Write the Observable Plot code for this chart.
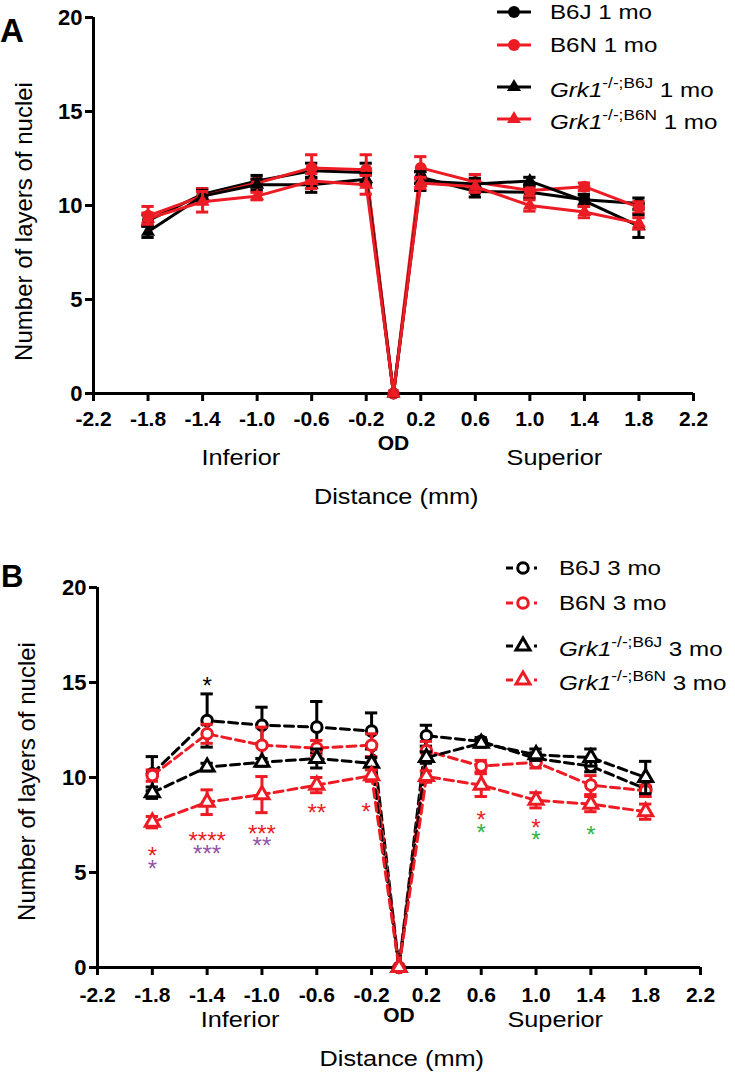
<!DOCTYPE html>
<html><head><meta charset="utf-8">
<script src="https://cdn.jsdelivr.net/npm/d3@7"></script>
<script src="https://cdn.jsdelivr.net/npm/@observablehq/plot@0.6"></script>
<style>
body{margin:0;background:#fff;}
#wrap{position:relative;width:735px;height:1078px;overflow:hidden;font-family:"Liberation Sans",Arial,sans-serif;color:#000;}
.svgbox{position:absolute;left:0;}
.plabel{position:absolute;font-weight:bold;line-height:1;}
.row{position:absolute;height:28px;line-height:28px;display:flex;align-items:center;white-space:nowrap;font-size:21px;}
.row svg{margin-right:19px;flex:none;}
.row .lab{display:inline-block;transform:scaleX(1.15);transform-origin:0 50%;}
.row sup{font-size:15px;font-style:normal;position:relative;top:-1px;}
</style></head>
<body><div id="wrap"></div>
<script>
// ---------- data ----------
const distances = [-1.8, -1.4, -1.0, -0.6, -0.2, 0, 0.2, 0.6, 1.0, 1.4, 1.8];
const xTicks = [-2.2, -1.8, -1.4, -1.0, -0.6, -0.2, 0.2, 0.6, 1.0, 1.4, 1.8, 2.2];
const yTicks = [0, 5, 10, 15, 20];
const regionLabels = ["Inferior", "OD", "Superior"];
const yLabel = "Number of layers of nuclei";
const xLabel = "Distance (mm)";

// Panel A (1 month)
const seriesA = ["B6J 1 mo", "B6N 1 mo", "Grk1 B6J 1 mo", "Grk1 B6N 1 mo"];
const a_B6J      = [9.2, 10.6, 11.3, 11.85, 11.75, 0, 11.5, 10.75, 10.7, 10.3, 10.1];
const a_B6J_sem  = [0.3, 0.3, 0.3, 0.4, 0.5, 0, 0.3, 0.3, 0.3, 0.3, 0.3];
const a_B6N      = [9.45, 10.5, 11.2, 12.0, 11.9, 0, 12.0, 11.25, 10.8, 11.0, 9.9];
const a_B6N_sem  = [0.5, 0.4, 0.2, 0.7, 0.8, 0, 0.6, 0.4, 0.3, 0.2, 0.3];
const a_KOJ      = [8.6, 10.5, 11.1, 11.1, 11.4, 0, 11.3, 11.15, 11.3, 10.25, 8.9];
const a_KOJ_sem  = [0.3, 0.3, 0.3, 0.4, 0.3, 0, 0.5, 0.3, 0.2, 0.3, 0.6];
const a_KON      = [9.3, 10.2, 10.5, 11.3, 11.1, 0, 11.2, 11.0, 10.0, 9.65, 9.05];
const a_KON_sem  = [0.3, 0.55, 0.2, 0.4, 0.5, 0, 0.3, 0.3, 0.3, 0.3, 0.3];

// Panel B (3 months)
const seriesB = ["B6J 3 mo", "B6N 3 mo", "Grk1 B6J 3 mo", "Grk1 B6N 3 mo"];
const b_B6J      = [10.2, 13.0, 12.75, 12.65, 12.45, 0, 12.2, 11.9, 11.0, 10.6, 9.4];
const b_B6J_sem  = [0.9, 1.4, 0.95, 1.35, 0.95, 0, 0.55, 0.2, 0.3, 0.3, 0.4];
const b_B6N      = [10.1, 12.3, 11.7, 11.55, 11.7, 0, 11.4, 10.6, 10.8, 9.6, 9.3];
const b_B6N_sem  = [0.3, 0.5, 0.95, 0.4, 0.6, 0, 0.5, 0.3, 0.3, 0.5, 0.3];
const b_KOJ      = [9.2, 10.55, 10.8, 11.0, 10.75, 0, 11.05, 11.8, 11.2, 11.05, 10.0];
const b_KOJ_sem  = [0.3, 0.2, 0.2, 0.5, 0.3, 0, 0.3, 0.2, 0.3, 0.45, 0.85];
const b_KON      = [7.65, 8.7, 9.1, 9.6, 10.1, 0, 10.05, 9.6, 8.8, 8.6, 8.2];
const b_KON_sem  = [0.3, 0.65, 0.95, 0.4, 0.3, 0, 0.3, 0.6, 0.4, 0.4, 0.4];

// significance marks (panel B)
const sigX     = [-1.4, -1.8, -1.8, -1.4, -1.4, -1.0, -1.0, -0.6, -0.24, 0.6, 0.6, 1.0, 1.0, 1.4];
const sigY     = [15.1, 6.15, 5.5, 6.95, 6.25, 7.35, 6.7, 8.45, 8.5, 8.05, 7.4, 7.65, 7.0, 7.25];
const sigText  = ["*", "*", "*", "****", "***", "***", "**", "**", "*", "*", "*", "*", "*", "*"];
const sigGroup = ["black", "red", "purple", "red", "purple", "red", "purple", "red", "red", "red", "green", "red", "green", "green"];

// ---------- styles ----------
const palette = {black: "#000000", red: "#ed1c24", purple: "#9255a8", green: "#33b44a"};
const seriesColor = [palette.black, palette.red, palette.black, palette.red];
const seriesShape = ["circle", "circle", "triangle", "triangle"];
const FONT = "Liberation Sans, Arial, sans-serif";
const STRETCH = 1.15;

function rowsFor(vals, sems, name) {
  return distances.map((x, i) => ({x, y: vals[i], sem: sems[i], series: name}));
}

function regionMarks(cfg) {
  return [
    Plot.text([regionLabels[0]], {x: [cfg.regionX[0]], frameAnchor: "bottom", dy: cfg.infDy, fontSize: 22}),
    Plot.text([regionLabels[1]], {x: [cfg.regionX[1]], frameAnchor: "bottom", dy: cfg.odDy, fontSize: 21, fontWeight: "bold"}),
    Plot.text([regionLabels[2]], {x: [cfg.regionX[2]], frameAnchor: "bottom", dy: cfg.infDy, fontSize: 22}),
    Plot.text([xLabel], {x: [cfg.distX], frameAnchor: "bottom", dy: cfg.distDy, fontSize: 22})
  ];
}

function buildPanel(cfg) {
  const marks = [];
  cfg.series.forEach((rows, k) => {
    const color = seriesColor[k];
    const tri = seriesShape[k] === "triangle";
    const eb = rows.filter(d => d.sem > 0);
    marks.push(Plot.ruleX(eb, {x: "x", y1: d => d.y - d.sem, y2: d => d.y + d.sem, stroke: color, strokeWidth: 3}));
    marks.push(Plot.ruleY(eb, {y: d => d.y + d.sem, x1: d => d.x - 0.045, x2: d => d.x + 0.045, stroke: color, strokeWidth: 3}));
    marks.push(Plot.ruleY(eb, {y: d => d.y - d.sem, x1: d => d.x - 0.045, x2: d => d.x + 0.045, stroke: color, strokeWidth: 3}));
    marks.push(Plot.line(rows, {x: "x", y: "y", stroke: color, strokeWidth: 3,
      strokeDasharray: cfg.dashed ? "9,5" : null}));
    if (cfg.open) {
      marks.push(Plot.dot(rows, {x: "x", y: "y", symbol: seriesShape[k], r: tri ? 5.2 : 5.3,
        fill: "white", stroke: color, strokeWidth: 3}));
    } else {
      marks.push(Plot.dot(rows, {x: "x", y: "y", symbol: seriesShape[k], r: tri ? 5.2 : 6,
        fill: color, stroke: "none"}));
    }
  });
  return Plot.plot({
    width: 735,
    height: cfg.height,
    marginTop: cfg.marginTop,
    marginBottom: cfg.marginBottom,
    marginLeft: cfg.marginLeft,
    marginRight: cfg.marginRight,
    style: {fontFamily: FONT, color: "#000", background: "white", overflow: "visible"},
    x: {domain: [-2.2, 2.2]},
    y: {domain: [0, 20]},
    color: {type: "identity"},
    marks: [
      Plot.ruleX([-2.2], {stroke: "#000", strokeWidth: 3}),
      Plot.ruleY([0], {stroke: "#000", strokeWidth: 3}),
      Plot.axisX({ticks: xTicks, tickFormat: d => d.toFixed(1), tickSize: 8, tickPadding: cfg.xPad,
        strokeWidth: 3, fontSize: 21, fontWeight: "bold", label: null}),
      Plot.axisY({ticks: yTicks, tickSize: 8, tickPadding: 3, strokeWidth: 3,
        fontSize: 22, fontWeight: "bold", label: null}),
      Plot.text([yLabel], {frameAnchor: "left", textAnchor: "middle", rotate: -90,
        dx: cfg.yLabelDx, dy: cfg.yLabelDy, fontSize: 24}),
      ...regionMarks(cfg),
      ...marks,
      ...(cfg.extra || [])
    ]
  });
}

// widen the regular-weight labels a little, as in the reference lettering
function stretchTexts(svg, labels, factor) {
  svg.querySelectorAll("text").forEach(t => {
    if (labels.includes(t.textContent)) {
      const w = t.getComputedTextLength();
      t.setAttribute("textLength", (w * factor).toFixed(1));
      t.setAttribute("lengthAdjust", "spacingAndGlyphs");
    }
  });
}

const wrap = document.getElementById("wrap");

const svgA = buildPanel({
  series: [rowsFor(a_B6J, a_B6J_sem, seriesA[0]), rowsFor(a_B6N, a_B6N_sem, seriesA[1]),
           rowsFor(a_KOJ, a_KOJ_sem, seriesA[2]), rowsFor(a_KON, a_KON_sem, seriesA[3])],
  dashed: false, open: false,
  height: 525, marginTop: 17, marginBottom: 132, marginLeft: 93, marginRight: 42,
  xPad: 10, yLabelDx: -69, yLabelDy: 16,
  regionX: [-1.12, 0, 1.18], infDy: 71, odDy: 56, distX: 0.02, distDy: 110
});
const boxA = document.createElement("div");
boxA.className = "svgbox"; boxA.style.top = "0px";
boxA.appendChild(svgA); wrap.appendChild(boxA);

const sigRows = sigX.map((x, i) => ({x, y: sigY[i], t: sigText[i], c: palette[sigGroup[i]]}));
const svgB = buildPanel({
  series: [rowsFor(b_B6J, b_B6J_sem, seriesB[0]), rowsFor(b_B6N, b_B6N_sem, seriesB[1]),
           rowsFor(b_KOJ, b_KOJ_sem, seriesB[2]), rowsFor(b_KON, b_KON_sem, seriesB[3])],
  dashed: true, open: true,
  height: 553, marginTop: 62, marginBottom: 111, marginLeft: 97, marginRight: 35,
  xPad: 12, yLabelDx: -70, yLabelDy: 4,
  regionX: [-1.16, 0, 1.14], infDy: 59, odDy: 54, distX: 0.02, distDy: 98,
  extra: [Plot.text(sigRows, {x: "x", y: "y", text: "t", fill: "c", fontSize: 24, dy: 6})]
});
const boxB = document.createElement("div");
boxB.className = "svgbox"; boxB.style.top = "525px";
boxB.appendChild(svgB); wrap.appendChild(boxB);

const stretchList = [regionLabels[0], regionLabels[2], xLabel];
stretchTexts(svgA, stretchList, STRETCH);
stretchTexts(svgB, stretchList, STRETCH);

// ---------- legends (HTML) ----------
function swatch(color, shape, open) {
  const w = 34, h = 28, cx = 17, cy = 14;
  let s = `<svg width="${w}" height="${h}" style="overflow:visible">`;
  if (open) {
    s += `<line x1="0" x2="7" y1="${cy}" y2="${cy}" stroke="${color}" stroke-width="3"/>`;
    s += `<line x1="28" x2="31" y1="${cy}" y2="${cy}" stroke="${color}" stroke-width="3"/>`;
  } else {
    s += `<line x1="0" x2="${w}" y1="${cy}" y2="${cy}" stroke="${color}" stroke-width="3"/>`;
  }
  const fill = open ? "white" : color;
  const sw = open ? 3 : 0;
  if (shape === "circle") {
    s += `<circle cx="${cx}" cy="${cy}" r="${open ? 5.3 : 6}" fill="${fill}" stroke="${color}" stroke-width="${sw}"/>`;
  } else {
    const r = 5.2, y = -Math.sqrt(r * r * Math.PI / (Math.sqrt(3) * 3));
    const p = [[0, 2 * y], [-Math.sqrt(3) * y, -y], [Math.sqrt(3) * y, -y]]
      .map(([a, b]) => `${cx + a},${cy + b}`).join(" ");
    s += `<polygon points="${p}" fill="${fill}" stroke="${color}" stroke-width="${sw}"/>`;
  }
  return s + `</svg>`;
}
function labelHTML(name) {
  const m = name.match(/^Grk1 (\S+) (.*)$/);
  if (m) return `<span class="lab"><i>Grk1</i><sup>-/-;${m[1]}</sup> ${m[2]}</span>`;
  return `<span class="lab">${name}</span>`;
}
function legend(names, rowsY, left, open) {
  names.forEach((n, k) => {
    const d = document.createElement("div");
    d.className = "row";
    d.style.left = left + "px";
    d.style.top = (rowsY[k] - 14) + "px";
    d.innerHTML = swatch(seriesColor[k], seriesShape[k], open) + labelHTML(n);
    wrap.appendChild(d);
  });
}
legend(seriesA, [12, 45, 87, 119], 497, false);
legend(seriesB, [568, 603, 646, 680], 506, true);

// panel letters
function letter(t, left, top, size) {
  const d = document.createElement("div");
  d.className = "plabel"; d.textContent = t;
  d.style.left = left + "px"; d.style.top = top + "px"; d.style.fontSize = size + "px";
  wrap.appendChild(d);
}
letter("A", 0, 14, 33);
letter("B", 1, 561, 31);
</script>
</body></html>
